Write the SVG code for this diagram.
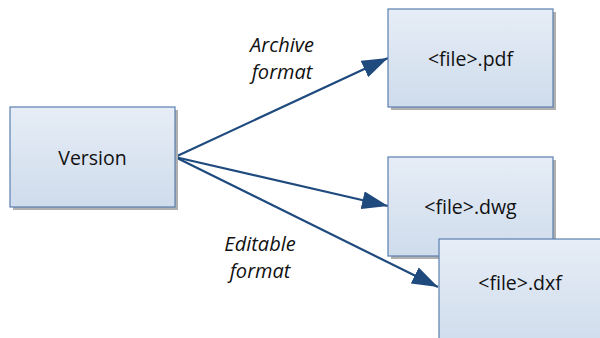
<svg xmlns="http://www.w3.org/2000/svg" width="600" height="338" viewBox="0 0 600 338">
  <defs>
    <linearGradient id="boxFill" x1="0" y1="0" x2="0" y2="1">
      <stop offset="0" stop-color="#e6edf6"/>
      <stop offset="1" stop-color="#cfdcec"/>
    </linearGradient>
    <marker id="arrowBig" markerWidth="26" markerHeight="18" refX="26" refY="9" orient="auto" markerUnits="userSpaceOnUse" viewBox="0 0 26 18">
      <path d="M0,0 L26,9 L0,18 Z" fill="#1f4a7e"/>
    </marker>
  </defs>
  <style>
    .shadow { fill: #b0b0b0; }
    .box { fill: url(#boxFill); stroke: #5b7fae; stroke-width: 1.2; }
    .label { font-family: "Open Sans", "Liberation Sans", sans-serif; font-size: 19.5px; fill: #111; text-anchor: middle; dominant-baseline: central; }
    .note { font-family: "Open Sans", "Liberation Sans", sans-serif; font-size: 20px; font-style: italic; fill: #111; text-anchor: middle; }
    .edge { fill: none; stroke: #1f4a7e; stroke-width: 2.2; marker-end: url(#arrowBig); }
  </style>

  <rect width="600" height="338" fill="#ffffff"/>

  <g id="connectors">
    <line class="edge" x1="175" y1="157" x2="388" y2="58"/>
    <line class="edge" x1="175" y1="157" x2="388" y2="206"/>
    <line class="edge" x1="175" y1="157" x2="438" y2="287"/>
    <text class="note" x="282" y="52">Archive</text>
    <text class="note" x="282" y="79">format</text>
    <text class="note" x="260" y="251">Editable</text>
    <text class="note" x="260" y="278">format</text>
  </g>

  <g id="version">
    <rect class="shadow" x="13" y="110" width="165" height="100"/>
    <rect class="box" x="10" y="107" width="165" height="100"/>
    <text class="label" x="92.5" y="157">Version</text>
  </g>

  <g id="pdf">
    <rect class="shadow" x="391" y="12" width="165" height="98"/>
    <rect class="box" x="388" y="9" width="165" height="98"/>
    <text class="label" x="470.5" y="58">&lt;file&gt;.pdf</text>
  </g>

  <g id="dwg">
    <rect class="shadow" x="391" y="160" width="165" height="99"/>
    <rect class="box" x="388" y="157" width="165" height="99"/>
    <text class="label" x="470.5" y="206">&lt;file&gt;.dwg</text>
  </g>

  <g id="dxf">
    <rect class="box" x="439" y="239" width="175" height="110"/>
    <text class="label" x="520" y="282">&lt;file&gt;.dxf</text>
  </g>
</svg>
